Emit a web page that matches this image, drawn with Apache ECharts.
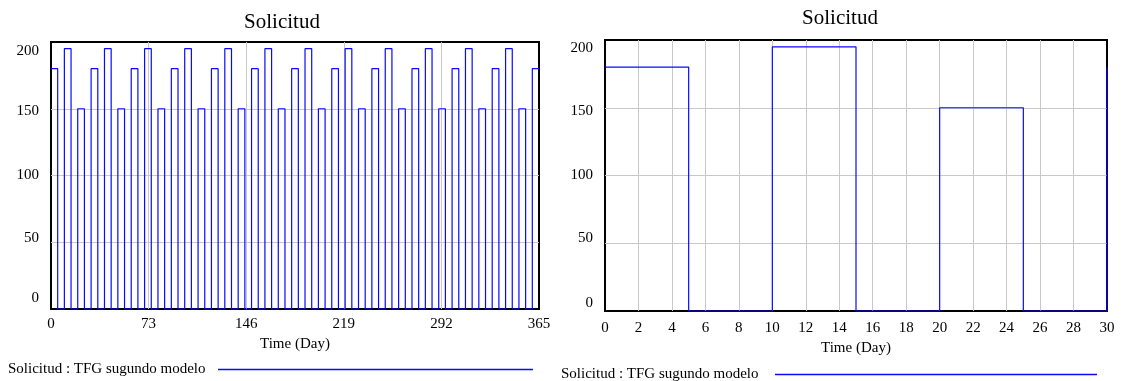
<!DOCTYPE html>
<html>
<head>
<meta charset="utf-8">
<script src="https://cdn.jsdelivr.net/npm/echarts@6/dist/echarts.min.js"></script>
<style>
  html, body { margin: 0; padding: 0; background: #fff; }
  #chart { width: 1125px; height: 381px; }
</style>
</head>
<body>
<div id="chart"></div>
<script>
// ---- Data ----
const chartTitle = 'Solicitud';
const xAxisName = 'Time (Day)';
const seriesName = 'Solicitud : TFG sugundo modelo';

// Left panel: 0..365 days, breakpoints of the step line
const leftTimes = [
  0, 5, 10, 15, 20, 25, 30, 35, 40, 45, 50, 55,
  60, 65, 70, 75, 80, 85, 90, 95, 100, 105, 110, 115,
  120, 125, 130, 135, 140, 145, 150, 155, 160, 165, 170, 175,
  180, 185, 190, 195, 200, 205, 210, 215, 220, 225, 230, 235,
  240, 245, 250, 255, 260, 265, 270, 275, 280, 285, 290, 295,
  300, 305, 310, 315, 320, 325, 330, 335, 340, 345, 350, 355,
  360, 365
];
const leftValues = [
  180, 0, 195, 0, 150, 0, 180, 0, 195, 0, 150, 0,
  180, 0, 195, 0, 150, 0, 180, 0, 195, 0, 150, 0,
  180, 0, 195, 0, 150, 0, 180, 0, 195, 0, 150, 0,
  180, 0, 195, 0, 150, 0, 180, 0, 195, 0, 150, 0,
  180, 0, 195, 0, 150, 0, 180, 0, 195, 0, 150, 0,
  180, 0, 195, 0, 150, 0, 180, 0, 195, 0, 150, 0,
  180, 180
];

// Right panel: 0..30 days
const rightTimes = [0, 5, 10, 15, 20, 25, 30];
const rightValues = [180, 0, 195, 0, 150, 0, 180];

// Axis ticks
const leftXTicks = [0, 73, 146, 219, 292, 365];
const rightXTicks = [0, 2, 4, 6, 8, 10, 12, 14, 16, 18, 20, 22, 24, 26, 28, 30];
const yTicks = [0, 50, 100, 150, 200];

// ---- Chart ----
const FONT = 'Liberation Serif';
const BLUE = '#0a0aff';
const GRIDC = '#c8c8c8';

function pairs(ts, vs) { return ts.map((t, i) => [t, vs[i]]); }

function yLabelFormatter(v) {
  return '{v' + v + '|' + v + '}';
}
function yRich(p200, p150, p50, p0) {
  const base = { fontFamily: FONT, fontSize: 15, color: '#000' };
  return {
    v200: Object.assign({ padding: [p200, 0, 0, 0] }, base),
    v150: Object.assign({ padding: [p150, 0, 0, 0] }, base),
    v100: Object.assign({}, base),
    v50: Object.assign({ padding: [0, 0, p50, 0] }, base),
    v0: Object.assign({ padding: [0, 0, p0, 0] }, base)
  };
}

function xAxisCfg(gridIndex, ticks, nameGap, labelMargin) {
  return {
    type: 'value', gridIndex: gridIndex,
    min: ticks[0], max: ticks[ticks.length - 1],
    interval: ticks[1] - ticks[0],
    name: xAxisName, nameLocation: 'middle', nameGap: nameGap,
    nameTextStyle: { fontFamily: FONT, fontSize: 15, color: '#000' },
    axisLine: { show: false }, axisTick: { show: false },
    axisLabel: {
      fontFamily: FONT, fontSize: 15, color: '#000', margin: labelMargin,
      showMinLabel: true, showMaxLabel: true, hideOverlap: false
    },
    splitLine: { show: true, showMinLine: false, showMaxLine: false,
                 lineStyle: { color: GRIDC, width: 1 } }
  };
}
function yAxisCfg(gridIndex, rich) {
  return {
    type: 'value', gridIndex: gridIndex,
    min: yTicks[0], max: yTicks[yTicks.length - 1],
    interval: yTicks[1] - yTicks[0],
    axisLine: { show: false }, axisTick: { show: false },
    axisLabel: { margin: 12, formatter: yLabelFormatter, rich: rich,
                 showMinLabel: true, showMaxLabel: true },
    splitLine: { show: true, showMinLine: false, showMaxLine: false,
                 lineStyle: { color: GRIDC, width: 1 } }
  };
}

const chart = echarts.init(document.getElementById('chart'), null, { renderer: 'canvas' });
chart.setOption({
  animation: false,
  backgroundColor: '#fff',
  title: [
    { text: chartTitle, left: 277, top: 7, textAlign: 'center',
      textStyle: { fontFamily: FONT, fontSize: 21, fontWeight: 'normal', color: '#000' } },
    { text: chartTitle, left: 835, top: 3, textAlign: 'center',
      textStyle: { fontFamily: FONT, fontSize: 21, fontWeight: 'normal', color: '#000' } }
  ],
  grid: [
    { left: 51, top: 42, width: 488, height: 267, show: true,
      borderColor: '#000', borderWidth: 2, backgroundColor: 'transparent' },
    { left: 605, top: 40, width: 502, height: 271, show: true,
      borderColor: '#000', borderWidth: 2, backgroundColor: 'transparent' }
  ],
  xAxis: [
    xAxisCfg(0, leftXTicks, 28, 8),
    xAxisCfg(1, rightXTicks, 30, 10)
  ],
  yAxis: [
    yAxisCfg(0, yRich(18, 5, 9, 21)),
    yAxisCfg(1, yRich(16, 7, 10, 16))
  ],
  series: [
    { name: seriesName, type: 'line', xAxisIndex: 0, yAxisIndex: 0, z: 5,
      step: 'end', showSymbol: false, symbol: 'none', clip: false,
      lineStyle: { color: BLUE, width: 1.2 }, itemStyle: { color: BLUE },
      data: pairs(leftTimes, leftValues) },
    { name: seriesName, type: 'line', xAxisIndex: 1, yAxisIndex: 1, z: 5,
      step: 'end', showSymbol: false, symbol: 'none', clip: false,
      lineStyle: { color: BLUE, width: 1.2 }, itemStyle: { color: BLUE },
      data: pairs(rightTimes, rightValues) }
  ],
  graphic: [
    { type: 'text', left: 8, top: 362,
      style: { text: seriesName, fontFamily: FONT, fontSize: 15, fill: '#000' } },
    { type: 'line', shape: { x1: 218, y1: 369.5, x2: 533, y2: 369.5 },
      style: { stroke: BLUE, lineWidth: 1.3 } },
    { type: 'text', left: 561, top: 367,
      style: { text: seriesName, fontFamily: FONT, fontSize: 15, fill: '#000' } },
    { type: 'line', shape: { x1: 775, y1: 374.5, x2: 1097, y2: 374.5 },
      style: { stroke: BLUE, lineWidth: 1.3 } }
  ]
});
</script>
</body>
</html>
